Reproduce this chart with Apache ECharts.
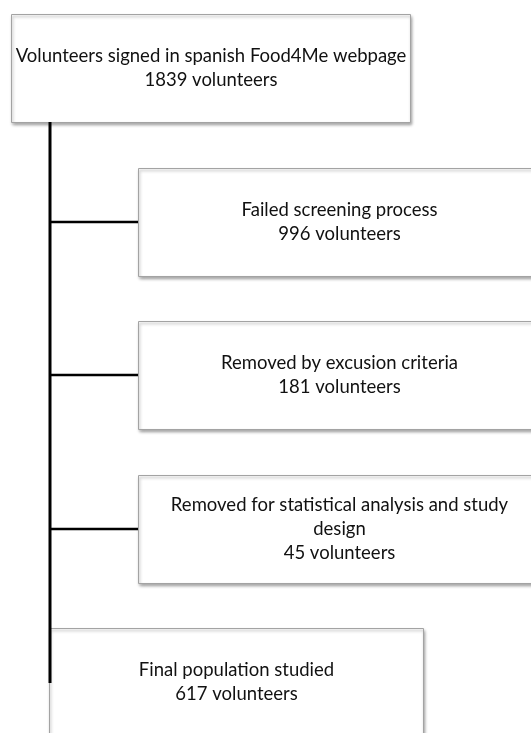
<!DOCTYPE html>
<html>
<head>
<meta charset="utf-8">
<script src="https://cdn.jsdelivr.net/npm/echarts@6/dist/echarts.min.js"></script>
<style>
html,body{margin:0;padding:0;background:#fff;}
#chart{width:531px;height:733px;}
</style>
</head>
<body>
<div id="chart"></div>
<script>
// ---- content ----
const boxTitles = [
  'Volunteers signed in spanish Food4Me webpage',
  'Failed screening process',
  'Removed by excusion criteria',
  'Removed for statistical analysis and study\ndesign',
  'Final population studied'
];
const boxCounts = [1839, 996, 181, 45, 617];
const countUnit = 'volunteers';

// ---- layout (pixel space of a hidden 531x733 grid) ----
const boxLeft = [11, 138, 138, 138, 49];
const boxRight = [410, 540, 540, 540, 423];
const boxTop = [14, 168, 321, 475, 628];
const boxHeight = 108;
const trunkX = 50;
const trunkTop = 122;
const trunkBottom = 683;
const branchBoxes = [1, 2, 3];

const chart = echarts.init(document.getElementById('chart'), null, {renderer: 'canvas'});

const boxData = boxTitles.map((t, i) => [boxLeft[i], boxTop[i], boxRight[i], boxTop[i] + boxHeight, i]);
const lineData = [[trunkX, trunkTop, trunkX, trunkBottom]].concat(
  branchBoxes.map(i => {
    const cy = boxTop[i] + boxHeight / 2;
    return [trunkX, cy, boxLeft[i], cy];
  })
);

const FONT = '18.5px Lato, "Open Sans", sans-serif';

chart.setOption({
  animation: false,
  backgroundColor: '#ffffff',
  grid: {left: 0, right: 0, top: 0, bottom: 0},
  xAxis: {type: 'value', min: 0, max: 531, show: false},
  yAxis: {type: 'value', min: 0, max: 733, inverse: true, show: false},
  series: [
    {
      type: 'custom',
      coordinateSystem: 'cartesian2d',
      data: boxData,
      z: 1,
      renderItem: function (params, api) {
        const p0 = api.coord([api.value(0), api.value(1)]);
        const p1 = api.coord([api.value(2), api.value(3)]);
        const idx = api.value(4);
        const x = Math.round(p0[0]) + 0.5, y = Math.round(p0[1]) + 0.5;
        const w = Math.round(p1[0] - p0[0]), h = Math.round(p1[1] - p0[1]);
        return {
          type: 'group',
          children: [
            {
              type: 'rect',
              shape: {x: x, y: y, width: w, height: h},
              style: {
                fill: '#ffffff',
                stroke: '#a3a3a3',
                lineWidth: 1,
                shadowBlur: 3,
                shadowOffsetX: 1,
                shadowOffsetY: 2,
                shadowColor: 'rgba(0,0,0,0.35)'
              }
            },
            {
              type: 'text',
              style: {
                text: boxTitles[idx] + '\n' + boxCounts[idx] + ' ' + countUnit,
                x: x + w / 2,
                y: y + h / 2,
                align: 'center',
                verticalAlign: 'middle',
                font: FONT,
                lineHeight: 24,
                fill: '#111111'
              }
            }
          ]
        };
      }
    },
    {
      type: 'custom',
      coordinateSystem: 'cartesian2d',
      data: lineData,
      z: 5,
      renderItem: function (params, api) {
        const p0 = api.coord([api.value(0), api.value(1)]);
        const p1 = api.coord([api.value(2), api.value(3)]);
        const vertical = params.dataIndex === 0;
        return {
          type: 'line',
          shape: {x1: p0[0], y1: p0[1], x2: p1[0], y2: p1[1]},
          style: {stroke: '#000000', lineWidth: vertical ? 3 : 2.7}
        };
      }
    }
  ]
});
</script>
</body>
</html>
